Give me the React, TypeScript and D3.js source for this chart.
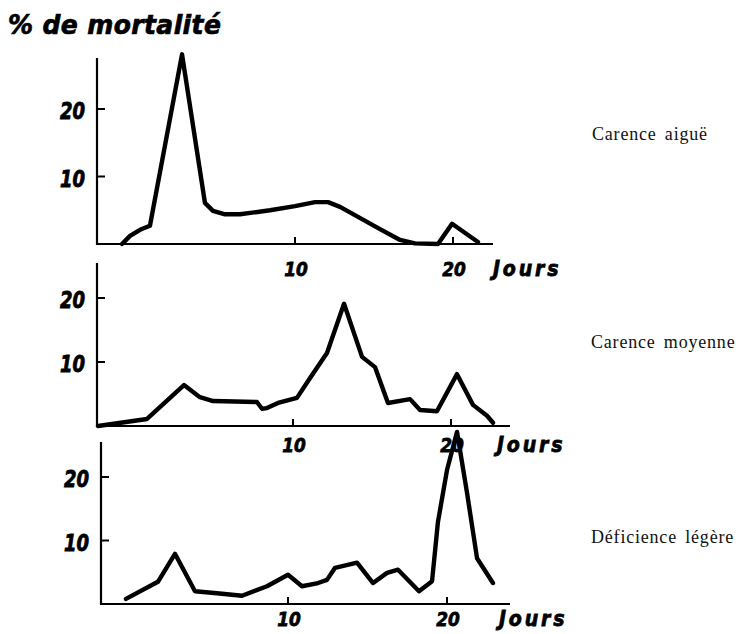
import React from "react";
import * as d3 from "d3";

// Carence aiguë
const daysA = [-0.95, -0.44, 0.19, 0.82, 2.85, 4.3, 4.81, 5.57, 6.52, 8.42, 10.0, 11.27, 12.09, 12.85, 15.38, 16.65, 17.59, 19.05, 19.94, 21.58];
const valsA = [0, 1.2, 2.1, 2.7, 28.1, 6.1, 4.9, 4.4, 4.4, 5.0, 5.6, 6.2, 6.2, 5.5, 2.2, 0.6, 0.1, 0, 3.0, 0.3];

// Carence moyenne
const daysB = [-2.34, 0.76, 3.1, 4.11, 4.94, 7.72, 8.04, 8.35, 9.05, 10.25, 11.08, 12.15, 13.23, 14.37, 15.19, 16.01, 17.41, 18.04, 19.11, 20.38, 21.39, 22.28, 22.66];
const valsB = [0, 1.1, 6.4, 4.5, 3.9, 3.75, 2.7, 2.8, 3.6, 4.4, 7.5, 11.4, 19.1, 10.8, 9.2, 3.6, 4.2, 2.5, 2.3, 8.1, 3.3, 1.6, 0.5];

// Déficience légère
const daysC = [-0.19, 1.82, 2.89, 4.15, 5.53, 7.11, 8.68, 10.0, 10.88, 11.89, 12.45, 12.96, 14.34, 15.35, 16.23, 16.92, 18.24, 19.06, 19.43, 20.0, 20.63, 21.26, 21.89, 22.89];
const valsC = [0.8, 3.5, 7.9, 2.0, 1.7, 1.3, 2.8, 4.6, 2.8, 3.3, 3.8, 5.7, 6.5, 3.3, 4.9, 5.4, 2.0, 3.6, 12.9, 21.1, 27.1, 17.5, 7.2, 3.3];

const yTicks = [10, 20];
const xTicks = [10, 20];
const xTickLabelsA = ["10", "20"];
const xTickLabelsB = ["10", "20"];
const xTickLabelsC = ["10", "20"];
const panelNames = ["Carence aiguë", "Carence moyenne", "Déficience légère"];
const titleText = "% de mortalité";
const xUnit = "Jours";

type Panel = {
  days: number[];
  vals: number[];
  xLabels: string[];
  name: string;
  x0: number; x20: number;
  y0: number; y20: number;
  axisLeft: number; axisRight: number; axisTop: number;
  labelY: number; nameX: number; nameY: number; jourX: number;
};

const panels: Panel[] = [
  { days: daysA, vals: valsA, xLabels: xTickLabelsA, name: panelNames[0], x0: 137, x20: 453, y0: 244, y20: 109, axisLeft: 97, axisRight: 493, axisTop: 58, labelY: 276, nameX: 592, nameY: 140, jourX: 493 },
  { days: daysB, vals: valsB, xLabels: xTickLabelsB, name: panelNames[1], x0: 135, x20: 451, y0: 426, y20: 298, axisLeft: 97, axisRight: 510, axisTop: 263, labelY: 452, nameX: 591, nameY: 348, jourX: 497 },
  { days: daysC, vals: valsC, xLabels: xTickLabelsC, name: panelNames[2], x0: 129, x20: 447, y0: 604, y20: 477, axisLeft: 101, axisRight: 510, axisTop: 442, labelY: 626, nameX: 591, nameY: 543, jourX: 499 },
];

const handFont = "'DejaVu Sans', sans-serif";

function Hand({ x, y, size, anchor = "start", sx = 1, sy = 1.25, spacing = 0, children }: any) {
  return (
    <text
      transform={`translate(${x},${y}) scale(${sx},${sy})`}
      textAnchor={anchor}
      fontFamily={handFont}
      fontWeight="bold"
      fontStyle="italic"
      fontSize={size}
      letterSpacing={spacing}
      fill="#000"
      stroke="#000"
      strokeWidth={0.7}
    >
      {children}
    </text>
  );
}

function PanelView({ p }: { p: Panel }) {
  const x = d3.scaleLinear().domain([0, 20]).range([p.x0, p.x20]);
  const y = d3.scaleLinear().domain([0, 20]).range([p.y0, p.y20]);
  const pts: [number, number][] = p.days.map((d, i) => [d, p.vals[i]]);
  const line = d3.line<[number, number]>().x((d) => x(d[0])).y((d) => y(d[1])).curve(d3.curveLinear);
  return (
    <g>
      <line x1={p.axisLeft} x2={p.axisLeft} y1={p.axisTop} y2={p.y0 + 1} stroke="#000" strokeWidth={2.2} />
      <line x1={p.axisLeft - 1} x2={p.axisRight} y1={p.y0} y2={p.y0} stroke="#000" strokeWidth={2.2} />
      {yTicks.map((t) => (
        <g key={"y" + t}>
          <line x1={p.axisLeft} x2={p.axisLeft + 8} y1={y(t)} y2={y(t)} stroke="#000" strokeWidth={2} />
          <Hand x={p.axisLeft - 12} y={y(t) + 10} size={18} anchor="end">{t}</Hand>
        </g>
      ))}
      {xTicks.map((t, i) => (
        <g key={"x" + t}>
          <line x1={x(t)} x2={x(t)} y1={p.y0} y2={p.y0 - 7} stroke="#000" strokeWidth={2} />
          <Hand x={x(t) + 1} y={p.labelY} size={17} sy={1.15} anchor="middle">{p.xLabels[i]}</Hand>
        </g>
      ))}
      <Hand x={p.jourX} y={p.labelY} size={19} spacing={2.8} sy={1.08}>{xUnit}</Hand>
      <path d={line(pts) || ""} fill="none" stroke="#000" strokeWidth={4.4} strokeLinejoin="round" strokeLinecap="round" />
      <text x={p.nameX} y={p.nameY} fontFamily="'Liberation Serif', serif" fontSize={18} fill="#111" letterSpacing={0.8} wordSpacing={3}>{p.name}</text>
    </g>
  );
}

export default function App() {
  return (
    <svg width={746} height={634} style={{ position: "absolute", left: 0, top: 0, background: "#fff" }}>
      <rect x={0} y={0} width={746} height={634} fill="#fff" />
      <Hand x={8} y={34} size={25} sy={1.05} spacing={0.4}>{titleText}</Hand>
      {panels.map((p, i) => (
        <PanelView key={i} p={p} />
      ))}
    </svg>
  );
}
